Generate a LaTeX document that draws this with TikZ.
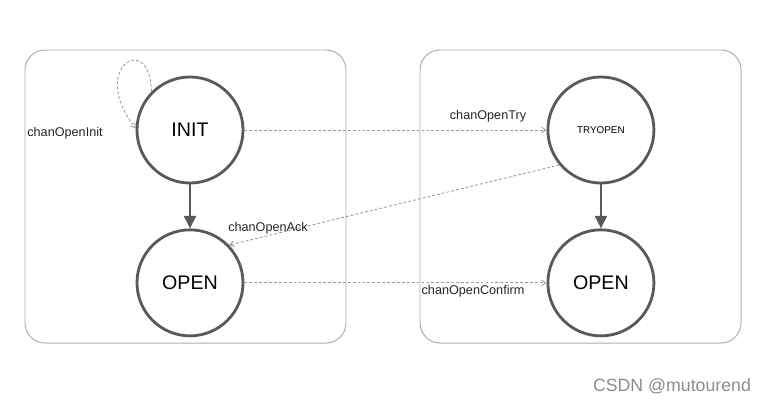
\documentclass[tikz,border=0pt]{standalone}
\usepackage{fontspec}
\setmainfont{Liberation Sans}
\usetikzlibrary{arrows.meta,positioning}
\definecolor{stategray}{rgb}{0.35,0.35,0.35}
\definecolor{boxgray}{rgb}{0.68,0.68,0.68}
\definecolor{dashgray}{rgb}{0.6,0.6,0.6}

\begin{document}
\begin{tikzpicture}[x=0.025cm,y=-0.025cm,
  state/.style={circle,draw=stategray,line width=2pt,minimum size=2.65cm,inner sep=0pt,font=\fontsize{14}{16}\selectfont},
  msg/.style={dashgray,dash pattern=on 2pt off 1.5pt,line width=0.6pt,-{Straight Barb[length=3pt,width=4pt]}},
  lbl/.style={font=\fontsize{9}{11}\selectfont,text=black!85}]

\useasboundingbox (0,0) rectangle (770,404);

% the two ends
\draw[boxgray,rounded corners=0.5cm,line width=0.7pt] (25,50) rectangle (346,343);
\draw[boxgray,rounded corners=0.5cm,line width=0.7pt] (420,50) rectangle (741,343);

\node[state] (init) at (190,130) {INIT};
\node[state, below=1.1cm of init] (openA) {OPEN};
\node[state, right=7.55cm of init, font=\fontsize{7}{8}\selectfont] (tryopen) {TRYOPEN};
\node[state, below=1.1cm of tryopen] (openB) {OPEN};

\draw[stategray,line width=2pt,-{Triangle[length=9pt,width=8.5pt]}] (init) -- (openA);
\draw[stategray,line width=2pt,-{Triangle[length=9pt,width=8.5pt]}] (tryopen) -- (openB);

\draw[msg] (init.135) .. controls (150,30) and (88,68) .. (init.178);
\draw[msg] (init) -- (tryopen);
\draw[msg] (tryopen.220) -- (openA.44);
\draw[msg] (openA) -- (openB);

\node[lbl] (initlbl) at (65,133) {chanOpenInit};
\node[lbl] (trylbl) at (488,116) {chanOpenTry};
\node[lbl] (acklbl) at (268,228) {chanOpenAck};
\node[lbl] (confirmlbl) at (473,291) {chanOpenConfirm};

\node[font=\fontsize{12.6}{14}\selectfont,text=black!45] (mark) at (672,386) {CSDN @mutourend};
\end{tikzpicture}
\end{document}
